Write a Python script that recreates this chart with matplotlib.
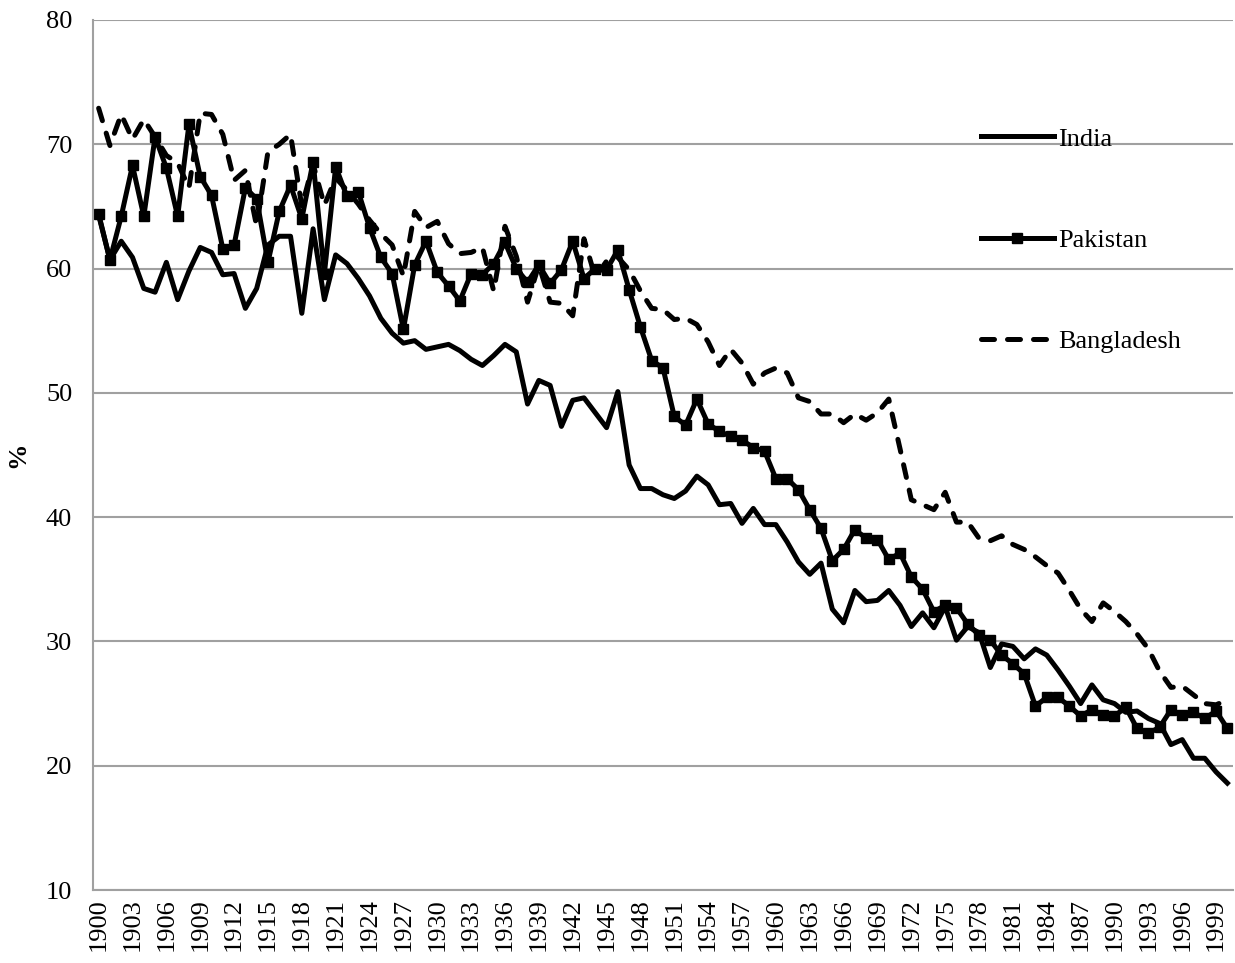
import numpy as np
import matplotlib
matplotlib.use('Agg')
import matplotlib.pyplot as plt

plt.rcParams['font.family'] = ['Liberation Serif', 'DejaVu Serif']

years = list(range(1900, 2001))

india = [64.3, 60.7, 62.2, 60.9, 58.4, 58.1, 60.5, 57.5, 59.8, 61.7,
         61.3, 59.5, 59.6, 56.8, 58.4, 61.9, 62.6, 62.6, 56.4, 63.2,
         57.5, 61.1, 60.4, 59.2, 57.8, 56.0, 54.8, 54.0, 54.2, 53.5,
         53.7, 53.9, 53.4, 52.7, 52.2, 53.0, 53.9, 53.3, 49.1, 51.0,
         50.6, 47.3, 49.4, 49.6, 48.4, 47.2, 50.1, 44.2, 42.3, 42.3,
         41.8, 41.5, 42.1, 43.3, 42.6, 41.0, 41.1, 39.5, 40.7, 39.4,
         39.4, 38.0, 36.4, 35.4, 36.3, 32.6, 31.5, 34.1, 33.2, 33.3,
         34.1, 32.9, 31.2, 32.3, 31.1, 32.8, 30.1, 31.2, 30.7, 27.9,
         29.8, 29.6, 28.6, 29.4, 28.9, 27.7, 26.4, 25.0, 26.5, 25.3,
         25.0, 24.3, 24.4, 23.8, 23.4, 21.7, 22.1, 20.6, 20.6, 19.5,
         18.6]

pakistan = [64.4, 60.7, 64.2, 68.3, 64.2, 70.6, 68.1, 64.2, 71.6, 67.4,
            65.9, 61.6, 61.9, 66.5, 65.6, 60.5, 64.6, 66.7, 64.0, 68.6,
            59.6, 68.2, 65.8, 66.2, 63.3, 60.9, 59.6, 55.1, 60.3, 62.2,
            59.7, 58.6, 57.4, 59.6, 59.5, 60.4, 62.1, 60.0, 58.9, 60.3,
            58.8, 59.9, 62.2, 59.2, 60.0, 59.9, 61.5, 58.3, 55.3, 52.6,
            52.0, 48.1, 47.4, 49.5, 47.5, 46.9, 46.5, 46.2, 45.6, 45.3,
            43.1, 43.1, 42.2, 40.6, 39.1, 36.5, 37.4, 39.0, 38.3, 38.2,
            36.6, 37.1, 35.2, 34.2, 32.4, 32.9, 32.7, 31.4, 30.5, 30.1,
            28.9, 28.2, 27.4, 24.8, 25.5, 25.5, 24.8, 24.0, 24.5, 24.1,
            24.0, 24.7, 23.0, 22.6, 23.1, 24.5, 24.1, 24.3, 23.8, 24.4,
            23.0]

bangladesh = [72.9, 69.9, 72.4, 70.4, 72.0, 70.6, 69.1, 68.5, 66.5, 72.5,
              72.4, 70.8, 67.1, 67.9, 63.4, 69.4, 70.0, 70.8, 65.0, 68.4,
              65.1, 67.3, 66.3, 65.2, 63.9, 62.8, 61.9, 59.4, 64.6, 63.3,
              63.8, 62.0, 61.2, 61.3, 61.7, 58.2, 63.4, 61.0, 57.3, 60.3,
              57.3, 57.2, 56.2, 62.4, 59.3, 60.6, 60.9, 59.9, 58.2, 56.8,
              56.7, 55.9, 56.0, 55.5, 54.1, 52.2, 53.5, 52.4, 50.7, 51.6,
              52.0, 51.6, 49.6, 49.3, 48.3, 48.3, 47.6, 48.3, 47.8, 48.4,
              49.5, 45.5, 41.4, 41.0, 40.6, 42.0, 39.6, 39.6, 38.3, 38.1,
              38.5, 37.8, 37.4, 36.8, 36.1, 35.5, 34.1, 32.6, 31.6, 33.1,
              32.4, 31.6, 30.6, 29.4, 27.6, 26.3, 26.4, 25.7, 25.0, 24.9,
              25.3]

x = np.arange(len(years))
fs = 19

fig = plt.figure(figsize=(12.35, 9.63), dpi=100)
ax = fig.add_axes([93/1235, 1 - 890/963, (1233 - 93)/1235, (890 - 20)/963])

lw = 3.6
ax.plot(x, india, color='black', lw=lw, label='India')
ax.plot(x, pakistan, color='black', lw=lw, marker='s', markersize=6.5,
        label='Pakistan')
ax.plot(x, bangladesh, color='black', lw=lw, linestyle=(0, (2.6, 2.6)),
        dash_capstyle='round', label='Bangladesh')

ax.set_xlim(-0.5, len(years) - 0.5)
ax.set_ylim(10, 80)
ax.set_yticks(range(10, 81, 10))
ax.yaxis.grid(True, color='#a0a0a0', lw=1.5)
ax.set_axisbelow(True)

ax.set_xticks(x[::3])
ax.set_xticklabels([str(y) for y in years[::3]], rotation=90, fontsize=fs)
ax.tick_params(axis='y', labelsize=fs, length=0, pad=15)
ax.tick_params(axis='x', length=0, pad=6)

for s in ['top', 'right']:
    ax.spines[s].set_visible(False)
for s in ['left', 'bottom']:
    ax.spines[s].set_color('#a0a0a0')
    ax.spines[s].set_linewidth(1.5)

ax.set_ylabel('%', fontsize=fs, fontweight='bold', labelpad=12)

leg = ax.legend(loc='upper left', bbox_to_anchor=(968/1235, 1 - 114/963),
                bbox_transform=fig.transFigure, frameon=False, fontsize=fs,
                labelspacing=2.95, handlelength=2.75, handletextpad=0.15,
                borderpad=0, numpoints=1)

fig.savefig('out.png', dpi=100)
